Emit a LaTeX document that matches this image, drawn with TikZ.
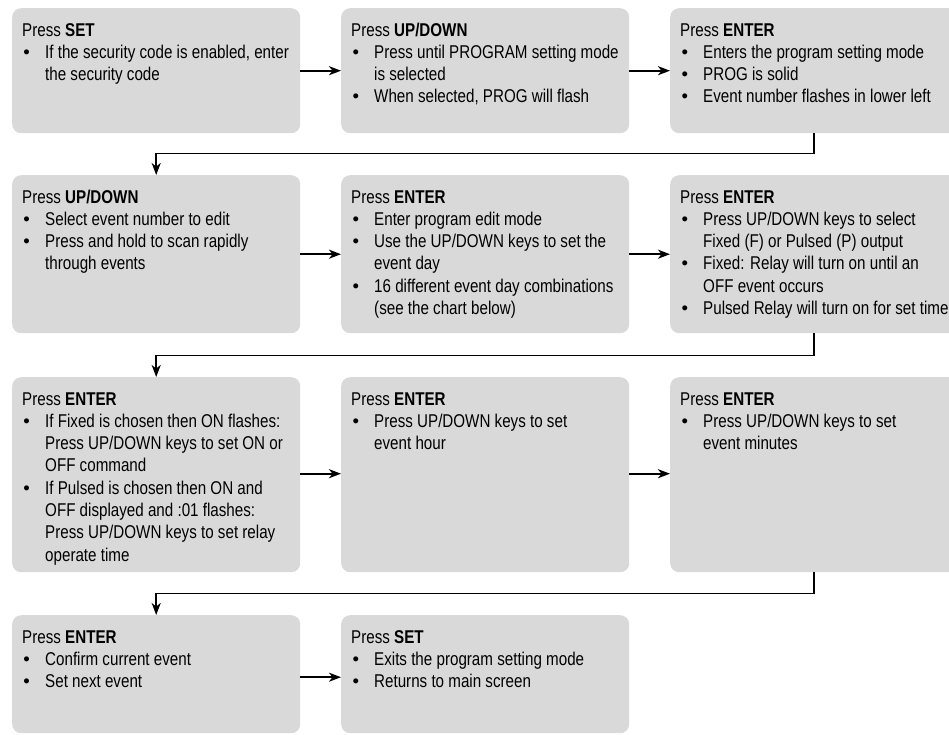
\documentclass[tikz,border=0pt]{standalone}
\usepackage{fontspec}
\setmainfont{Liberation Sans}[FakeStretch=0.82]
\newfontfamily\bulfont{Liberation Sans}
\usetikzlibrary{arrows.meta}
\definecolor{boxgray}{RGB}{217,217,217}
\newcommand{\itm}{\par\hangindent=23pt\hangafter=1\noindent\makebox[23pt][l]{\hspace{1.3pt}{\bulfont •}}}
\newcommand{\ttl}[1]{\noindent Press \textbf{#1}}
\newcommand{\nl}{\newline}
\begin{document}
\begin{tikzpicture}[x=1pt,y=1pt,
  stepbox/.style={fill=boxgray, draw=none, rounded corners=9pt, minimum width=288pt, anchor=north west, inner sep=0pt},
  txt/.style={anchor=base west, inner sep=0pt, font=\fontsize{18.5}{22.3}\selectfont},
  arr/.style={-{Stealth[length=12pt,width=9pt,inset=3.5pt]}, line width=1.9pt},
  conn/.style={-{Stealth[length=12pt,width=9pt,inset=3.5pt]}, line width=1.7pt}]
\useasboundingbox (0,0) rectangle (949,-734);
\clip (0,0) rectangle (949,-734);
% row 1
\node[stepbox, minimum height=125pt] (b1) at (12,-8) {};
\node[stepbox, minimum height=125pt] (b2) at (341,-8) {};
\node[stepbox, minimum height=125pt] (b3) at (670,-8) {};
% row 2
\node[stepbox, minimum height=158pt] (b4) at (12,-175) {};
\node[stepbox, minimum height=158pt] (b5) at (341,-175) {};
\node[stepbox, minimum height=158pt] (b6) at (670,-175) {};
% row 3
\node[stepbox, minimum height=195pt] (b7) at (12,-377) {};
\node[stepbox, minimum height=195pt] (b8) at (341,-377) {};
\node[stepbox, minimum height=195pt] (b9) at (670,-377) {};
% row 4
\node[stepbox, minimum height=118pt] (b10) at (12,-615) {};
\node[stepbox, minimum height=118pt] (b11) at (341,-615) {};

% texts
\node[txt] (t1) at ([shift={(10pt,-28pt)}]b1.north west) {\parbox[t]{330pt}{\ttl{SET}
  \itm If the security code is enabled, enter\nl the security code}};
\node[txt] (t2) at ([shift={(10pt,-28pt)}]b2.north west) {\parbox[t]{330pt}{\ttl{UP/DOWN}
  \itm Press until PROGRAM setting mode\nl is selected
  \itm When selected, PROG will flash}};
\node[txt] (t3) at ([shift={(10pt,-28pt)}]b3.north west) {\parbox[t]{330pt}{\ttl{ENTER}
  \itm Enters the program setting mode
  \itm PROG is solid
  \itm Event number flashes in lower left}};
\node[txt] (t4) at ([shift={(10pt,-28pt)}]b4.north west) {\parbox[t]{330pt}{\ttl{UP/DOWN}
  \itm Select event number to edit
  \itm Press and hold to scan rapidly\nl through events}};
\node[txt] (t5) at ([shift={(10pt,-28pt)}]b5.north west) {\parbox[t]{330pt}{\ttl{ENTER}
  \itm Enter program edit mode
  \itm Use the UP/DOWN keys to set the\nl event day
  \itm 16 different event day combinations\nl (see the chart below)}};
\node[txt] (t6) at ([shift={(10pt,-28pt)}]b6.north west) {\parbox[t]{330pt}{\ttl{ENTER}
  \itm Press UP/DOWN keys to select\nl Fixed (F) or Pulsed (P) output
  \itm Fixed: Relay will turn on until an\nl OFF event occurs
  \itm Pulsed Relay will turn on for set time}};
\node[txt] (t7) at ([shift={(10pt,-28pt)}]b7.north west) {\parbox[t]{330pt}{\ttl{ENTER}
  \itm If Fixed is chosen then ON flashes:\nl Press UP/DOWN keys to set ON or\nl OFF command
  \itm If Pulsed is chosen then ON and\nl OFF displayed and :01 flashes:\nl Press UP/DOWN keys to set relay\nl operate time}};
\node[txt] (t8) at ([shift={(10pt,-28pt)}]b8.north west) {\parbox[t]{330pt}{\ttl{ENTER}
  \itm Press UP/DOWN keys to set\nl event hour}};
\node[txt] (t9) at ([shift={(10pt,-28pt)}]b9.north west) {\parbox[t]{330pt}{\ttl{ENTER}
  \itm Press UP/DOWN keys to set\nl event minutes}};
\node[txt] (t10) at ([shift={(10pt,-28pt)}]b10.north west) {\parbox[t]{330pt}{\ttl{ENTER}
  \itm Confirm current event
  \itm Set next event}};
\node[txt] (t11) at ([shift={(10pt,-28pt)}]b11.north west) {\parbox[t]{330pt}{\ttl{SET}
  \itm Exits the program setting mode
  \itm Returns to main screen}};

% horizontal arrows
\draw[arr] (b1.east) -- (b2.west);
\draw[arr] (b2.east) -- (b3.west);
\draw[arr] (b4.east) -- (b5.west);
\draw[arr] (b5.east) -- (b6.west);
\draw[arr] ([yshift=1pt]b7.east) -- ([yshift=1pt]b8.west);
\draw[arr] ([yshift=1pt]b8.east) -- ([yshift=1pt]b9.west);
\draw[arr] ([yshift=-3pt]b10.east) -- ([yshift=-3pt]b11.west);
% row connectors
\draw[conn] (b3.south) -- ++(0,-20) -| (b4.north);
\draw[conn] (b6.south) -- ++(0,-22) -| (b7.north);
\draw[conn] (b9.south) -- ++(0,-21) -| (b10.north);
\end{tikzpicture}
\end{document}
